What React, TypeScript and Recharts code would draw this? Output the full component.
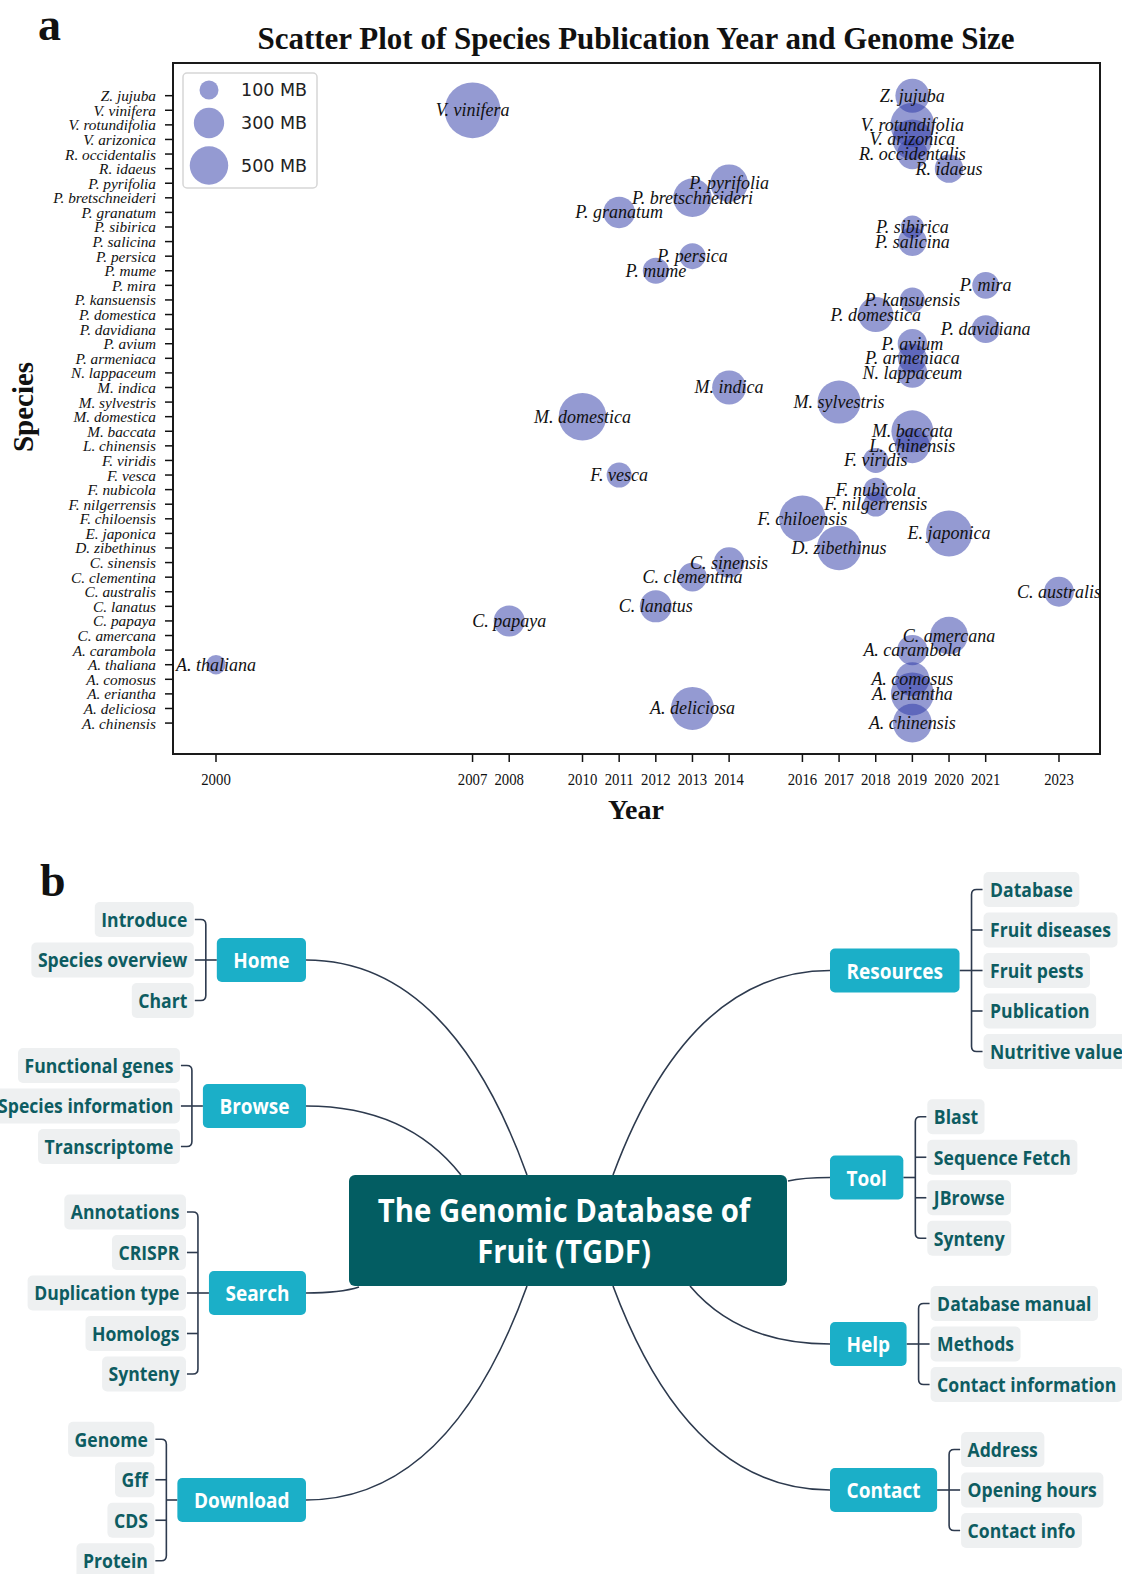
import React from 'react';
import { ScatterChart, Scatter, XAxis, YAxis, ZAxis, ReferenceArea } from 'recharts';

// species, top to bottom as they appear on the y axis
const SPECIES = [
  'Z. jujuba', 'V. vinifera', 'V. rotundifolia', 'V. arizonica', 'R. occidentalis', 'R. idaeus',
  'P. pyrifolia', 'P. bretschneideri', 'P. granatum', 'P. sibirica', 'P. salicina', 'P. persica',
  'P. mume', 'P. mira', 'P. kansuensis', 'P. domestica', 'P. davidiana', 'P. avium', 'P. armeniaca',
  'N. lappaceum', 'M. indica', 'M. sylvestris', 'M. domestica', 'M. baccata', 'L. chinensis',
  'F. viridis', 'F. vesca', 'F. nubicola', 'F. nilgerrensis', 'F. chiloensis', 'E. japonica',
  'D. zibethinus', 'C. sinensis', 'C. clementina', 'C. australis', 'C. lanatus', 'C. papaya',
  'C. amercana', 'A. carambola', 'A. thaliana', 'A. comosus', 'A. eriantha', 'A. deliciosa', 'A. chinensis',
];
const PUB_YEAR = [
  2019, 2007, 2019, 2019, 2019, 2020, 2014, 2013, 2011, 2019, 2019, 2013, 2012, 2021, 2019, 2018,
  2021, 2019, 2019, 2019, 2014, 2017, 2010, 2019, 2019, 2018, 2011, 2018, 2018, 2016, 2020, 2017,
  2014, 2013, 2023, 2012, 2008, 2020, 2019, 2000, 2019, 2019, 2013, 2019,
];
// genome size in MB
const GENOME_MB = [
  384, 1080, 663, 540, 300, 260, 476, 500, 327, 160, 264, 213, 213, 228, 195, 409, 250, 280, 270, 290,
  384, 632, 780, 600, 400, 195, 195, 177, 190, 747, 727, 675, 302, 264, 288, 337, 315, 476, 300, 105,
  384, 632, 632, 509,
];
const YEAR_TICKS = [2000, 2007, 2008, 2010, 2011, 2012, 2013, 2014, 2016, 2017, 2018, 2019, 2020, 2021, 2023];
const LEGEND_MB = [100, 300, 500];

// mind map texts
const ROOT_LINES = ['The Genomic Database of', 'Fruit (TGDF)'];
const HOME_ITEMS = ['Introduce', 'Species overview', 'Chart'];
const BROWSE_ITEMS = ['Functional genes', 'Species information', 'Transcriptome'];
const SEARCH_ITEMS = ['Annotations', 'CRISPR', 'Duplication type', 'Homologs', 'Synteny'];
const DOWNLOAD_ITEMS = ['Genome', 'Gff', 'CDS', 'Protein'];
const RESOURCES_ITEMS = ['Database', 'Fruit diseases', 'Fruit pests', 'Publication', 'Nutritive value'];
const TOOL_ITEMS = ['Blast', 'Sequence Fetch', 'JBrowse', 'Synteny'];
const HELP_ITEMS = ['Database manual', 'Methods', 'Contact information'];
const CONTACT_ITEMS = ['Address', 'Opening hours', 'Contact info'];

const points = SPECIES.map((name, i) => ({
  name,
  year: PUB_YEAR[i],
  pos: SPECIES.length - 1 - i,
  mb: GENOME_MB[i],
}));
const speciesTicks = SPECIES.map((_, i) => i);

const X_DOMAIN = [1998.827, 2024.119];
const Y_DOMAIN = [-2.12, 45.24];
const Z_DOMAIN = [0, 1200];
const Z_RANGE = [20 * Math.PI, (20 + 0.7 * 1200) * Math.PI];

const SERIF = '"Liberation Serif", "Times New Roman", serif';
const SANS = '"Open Sans", "DejaVu Sans", sans-serif';
const BUBBLE = '#2a35a5';

const Bubble = (props: any) => {
  const { cx, cy } = props;
  const r = props.size != null ? Math.sqrt(Math.max(props.size, 0) / Math.PI) : (props.width || 0) / 2;
  return <circle cx={cx} cy={cy} r={r} fill={BUBBLE} fillOpacity={0.5} />;
};

const BubbleLabel = (props: any) => (
  <text x={props.cx} y={props.cy} textAnchor="middle" dominantBaseline="central"
    fontFamily={SERIF} fontStyle="italic" fontSize={18} fill="#111">
    {props.payload.name}
  </text>
);

const SpeciesTick = (props: any) => {
  const { x, y, payload } = props;
  return (
    <text x={x} y={y} textAnchor="end" dominantBaseline="central" fontFamily={SERIF}
      fontStyle="italic" fontSize={15.3} fill="#111">
      {SPECIES[SPECIES.length - 1 - payload.value]}
    </text>
  );
};

const YearTick = (props: any) => {
  const { x, y, payload } = props;
  return (
    <text transform={`translate(${x},${y + 15}) scale(1,1.15)`} textAnchor="middle"
      dominantBaseline="central" fontFamily={SERIF} fontSize={14.8} fill="#111">
      {payload.value}
    </text>
  );
};

// same mapping as the ZAxis, for the legend circles
const legendR = (mb: number) => {
  const area = Z_RANGE[0] + ((mb - Z_DOMAIN[0]) / (Z_DOMAIN[1] - Z_DOMAIN[0])) * (Z_RANGE[1] - Z_RANGE[0]);
  return Math.sqrt(area / Math.PI);
};

let ctx: CanvasRenderingContext2D | null = null;
const measure = (text: string, font: string) => {
  if (!ctx) ctx = document.createElement('canvas').getContext('2d');
  if (!ctx) return text.length * 10;
  ctx.font = font;
  return ctx.measureText(text).width;
};

const LEAF_SIZE = 17.6;
const BRANCH_SIZE = 19;
const LEAF_FONT = `700 ${LEAF_SIZE}px "Open Sans"`;
const BRANCH_FONT = `700 ${BRANCH_SIZE}px "Open Sans"`;
const LINE = '#2d3a4e';

type BranchDef = { name: string; items: string[]; side: 'L' | 'R'; y: number; anchor: [number, number] };

const BRANCHES: BranchDef[] = [
  { name: 'Home', items: HOME_ITEMS, side: 'L', y: 960, anchor: [527, 1175] },
  { name: 'Browse', items: BROWSE_ITEMS, side: 'L', y: 1106, anchor: [461, 1175] },
  { name: 'Search', items: SEARCH_ITEMS, side: 'L', y: 1293, anchor: [359, 1287] },
  { name: 'Download', items: DOWNLOAD_ITEMS, side: 'L', y: 1500, anchor: [527, 1286] },
  { name: 'Resources', items: RESOURCES_ITEMS, side: 'R', y: 970.5, anchor: [613, 1175] },
  { name: 'Tool', items: TOOL_ITEMS, side: 'R', y: 1177.5, anchor: [788, 1181] },
  { name: 'Help', items: HELP_ITEMS, side: 'R', y: 1344, anchor: [690, 1286] },
  { name: 'Contact', items: CONTACT_ITEMS, side: 'R', y: 1490, anchor: [613, 1286] },
];

const Curve = ({ b }: { b: BranchDef }) => {
  const sx = b.side === 'L' ? 306 : 830;
  const [ex, ey] = b.anchor;
  const cx = sx + (ex - sx) * 0.65;
  return <path d={`M${sx},${b.y} Q${cx},${b.y} ${ex},${ey}`} fill="none" stroke={LINE} strokeWidth={1.6} />;
};

const Branch = ({ b }: { b: BranchDef }) => {
  const bw = measure(b.name, BRANCH_FONT) + 33;
  const bh = 44;
  const bx = b.side === 'L' ? 306 - bw : 830;
  const brX = b.side === 'L' ? bx - 11 : bx + bw + 12;
  const leafEdge = b.side === 'L' ? brX - 11 : brX + 11;
  const ys = b.items.map((_, i) => b.y + (i - (b.items.length - 1) / 2) * 40.5);
  const y0 = ys[0];
  const yN = ys[ys.length - 1];
  const r = 5;
  const d = b.side === 'L'
    ? `M${leafEdge},${y0} L${brX - r},${y0} Q${brX},${y0} ${brX},${y0 + r} L${brX},${yN - r} Q${brX},${yN} ${brX - r},${yN} L${leafEdge},${yN}`
    : `M${leafEdge},${y0} L${brX + r},${y0} Q${brX},${y0} ${brX},${y0 + r} L${brX},${yN - r} Q${brX},${yN} ${brX + r},${yN} L${leafEdge},${yN}`;
  const nodeEdge = b.side === 'L' ? bx : bx + bw;
  return (
    <g>
      <path d={d} fill="none" stroke={LINE} strokeWidth={1.6} />
      {ys.slice(1, -1).map((y, i) => (
        <path key={i} d={`M${leafEdge},${y} L${brX},${y}`} stroke={LINE} strokeWidth={1.6} />
      ))}
      <path d={`M${brX},${b.y} L${nodeEdge},${b.y}`} stroke={LINE} strokeWidth={1.6} />
      <rect x={bx} y={b.y - bh / 2} width={bw} height={bh} rx={5} fill="#1bafc8" />
      <text transform={`translate(${bx + bw / 2},${b.y}) scale(1,1.12)`} textAnchor="middle"
        dominantBaseline="central" fontFamily={SANS} fontWeight={700} fontSize={BRANCH_SIZE} fill="#fff">
        {b.name}
      </text>
      {b.items.map((item, i) => {
        const w = measure(item, LEAF_FONT) + 13;
        const lx = b.side === 'L' ? leafEdge - 1 - w : leafEdge + 1;
        return (
          <g key={item}>
            <rect x={lx} y={ys[i] - 17.5} width={w} height={35} rx={5} fill="#eef0f1" />
            <text transform={`translate(${lx + w / 2},${ys[i]}) scale(1,1.15)`} textAnchor="middle"
              dominantBaseline="central" fontFamily={SANS} fontWeight={700} fontSize={LEAF_SIZE} fill="#0d5c61">
              {item}
            </text>
          </g>
        );
      })}
    </g>
  );
};

export default function App() {
  return (
    <div style={{ position: 'absolute', left: 0, top: 0, width: 1122, height: 1574, background: '#fff' }}>
      <ScatterChart width={1122} height={830} margin={{ top: 63, right: 22, bottom: 46, left: 0 }}>
        <XAxis type="number" dataKey="year" domain={X_DOMAIN} ticks={YEAR_TICKS} interval={0}
          allowDataOverflow axisLine={false} tickSize={8} tickLine={{ stroke: '#111', strokeWidth: 1.5 }}
          tick={YearTick} height={30} />
        <YAxis type="number" dataKey="pos" domain={Y_DOMAIN} ticks={speciesTicks} interval={0}
          allowDataOverflow axisLine={false} width={173} tickSize={8} tickMargin={9}
          tickLine={{ stroke: '#111', strokeWidth: 1.5 }} tick={SpeciesTick} />
        <ZAxis type="number" dataKey="mb" domain={Z_DOMAIN} range={Z_RANGE} />
        <Scatter data={points} shape={Bubble} isAnimationActive={false} />
        <Scatter data={points} shape={BubbleLabel} isAnimationActive={false} />
        <ReferenceArea x1={X_DOMAIN[0]} x2={X_DOMAIN[1]} y1={Y_DOMAIN[0]} y2={Y_DOMAIN[1]}
          fill="none" stroke="#1a1a1a" strokeWidth={2} ifOverflow="visible" />
      </ScatterChart>

      <svg width={1122} height={1574} style={{ position: 'absolute', left: 0, top: 0, pointerEvents: 'none' }}>
        <text x={38} y={40} fontFamily={SERIF} fontWeight={700} fontSize={46} fill="#111">a</text>
        <text x={636} y={48.5} textAnchor="middle" fontFamily={SERIF} fontWeight={700} fontSize={31} fill="#111">
          Scatter Plot of Species Publication Year and Genome Size
        </text>
        <text transform="translate(33,407) rotate(-90)" textAnchor="middle" fontFamily={SERIF}
          fontWeight={700} fontSize={29} fill="#111">Species</text>
        <text x={636} y={819} textAnchor="middle" fontFamily={SERIF} fontWeight={700} fontSize={28} fill="#111">Year</text>

        <rect x={183} y={73} width={134} height={115} rx={4} fill="#fff" fillOpacity={0.85} stroke="#d6d6d6" strokeWidth={1.5} />
        {LEGEND_MB.map((mb, i) => {
          const cy = [90, 123, 165.5][i];
          return (
            <g key={mb}>
              <circle cx={209} cy={cy} r={legendR(mb)} fill={BUBBLE} fillOpacity={0.5} />
              <text x={241} y={cy} dominantBaseline="central" fontFamily='"DejaVu Sans", sans-serif'
                fontSize={17.5} fill="#222">{`${mb} MB`}</text>
            </g>
          );
        })}

        <text x={40} y={896} fontFamily={SERIF} fontWeight={700} fontSize={46} fill="#111">b</text>
        {BRANCHES.map((b) => <Curve key={b.name} b={b} />)}
        <rect x={349} y={1175} width={438} height={111} rx={6} fill="#035d62" />
        {ROOT_LINES.map((line, i) => (
          <text key={line} transform={`translate(564,${1210 + i * 41}) scale(1,1.08)`} textAnchor="middle"
            dominantBaseline="central" fontFamily={SANS} fontWeight={700} fontSize={29.3} fill="#fff">
            {line}
          </text>
        ))}
        {BRANCHES.map((b) => <Branch key={b.name} b={b} />)}
      </svg>
    </div>
  );
}
